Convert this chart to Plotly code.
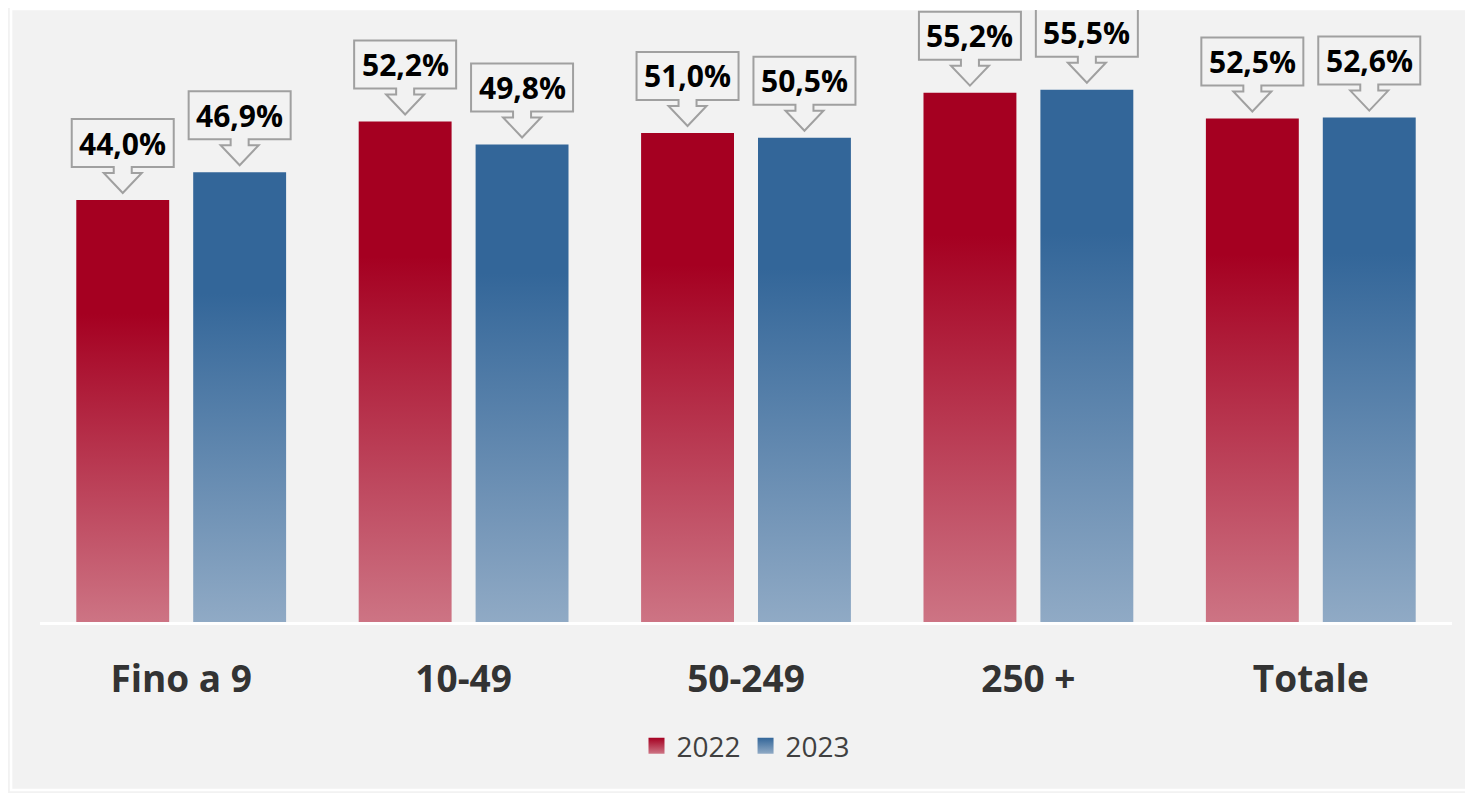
import plotly.graph_objects as go

categories = ["Fino a 9", "10-49", "50-249", "250 +", "Totale"]
years = ["2022", "2023"]
values_2022 = [44.0, 52.2, 51.0, 55.2, 52.5]
values_2023 = [46.9, 49.8, 50.5, 55.5, 52.6]

dark = {"2022": "#a50021", "2023": "#336699"}
light = {"2022": "#cd7484", "2023": "#90aac5"}

BAR_W = 0.329
OFFSET = 0.207

# callout box + down arrow, pixels relative to bar top (y up)
CALLOUT = ("M -51,33 L -9,33 L -9,27 L -19,27 L 0,7 L 19,27 L 9,27 L 9,33 "
           "L 51,33 L 51,81 L -51,81 Z")

fig = go.Figure()

for k, (year, vals) in enumerate(zip(years, [values_2022, values_2023])):
    shift = -OFFSET if k == 0 else OFFSET
    for i, v in enumerate(vals):
        xc = i + shift
        x0, x1 = xc - BAR_W / 2, xc + BAR_W / 2
        fig.add_trace(go.Scatter(
            x=[x0, x1, x1, x0, x0], y=[0, 0, v, v, 0],
            fill="toself", mode="none",
            fillgradient=dict(
                type="vertical", start=0, stop=v,
                colorscale=[[0, light[year]], [0.73, dark[year]], [1, dark[year]]],
            ),
            showlegend=False, hoverinfo="skip",
        ))
        fig.add_shape(
            type="path", xref="x", yref="y",
            xsizemode="pixel", ysizemode="pixel",
            xanchor=xc, yanchor=v, path=CALLOUT,
            line=dict(color="#a0a0a0", width=2),
            fillcolor="rgba(0,0,0,0)",
        )
        fig.add_annotation(
            x=xc, y=v, yshift=57, yanchor="middle",
            text=f"{v:.1f}%".replace(".", ","), showarrow=False,
            font=dict(family="Open Sans", size=30, color="black", weight="bold"),
        )
    # legend entry
    fig.add_trace(go.Scatter(
        x=[None], y=[None], mode="markers", name=year,
        marker=dict(symbol="square", size=16, color=dark[year],
                    gradient=dict(type="vertical", color=light[year])),
    ))

# white frame
fig.add_shape(type="rect", xref="paper", yref="paper",
              x0=-0.0205, x1=1.03, y0=-0.2745, y1=1.0016,
              line=dict(color="white", width=2.5), layer="below")

fig.update_layout(
    width=1465, height=785,
    margin=dict(l=32, r=21, t=2, b=171),
    paper_bgcolor="#f2f2f2", plot_bgcolor="#f2f2f2",
    font=dict(family="Open Sans", color="#404040"),
    showlegend=True,
    legend=dict(orientation="h", x=0.5, xanchor="center",
                y=-0.2026, yanchor="middle", font=dict(size=28),
                bgcolor="rgba(0,0,0,0)"),
    xaxis=dict(range=[-0.5, 4.5], tickvals=list(range(len(categories))),
               ticktext=categories, showgrid=False, zeroline=False,
               showline=True, linecolor="white", linewidth=3, ticks="",
               tickfont=dict(size=37, weight="bold", color="#333333"),
               ticklabelstandoff=23),
    yaxis=dict(range=[0, 63.82], visible=False),
)

fig.write_html("out.html")
